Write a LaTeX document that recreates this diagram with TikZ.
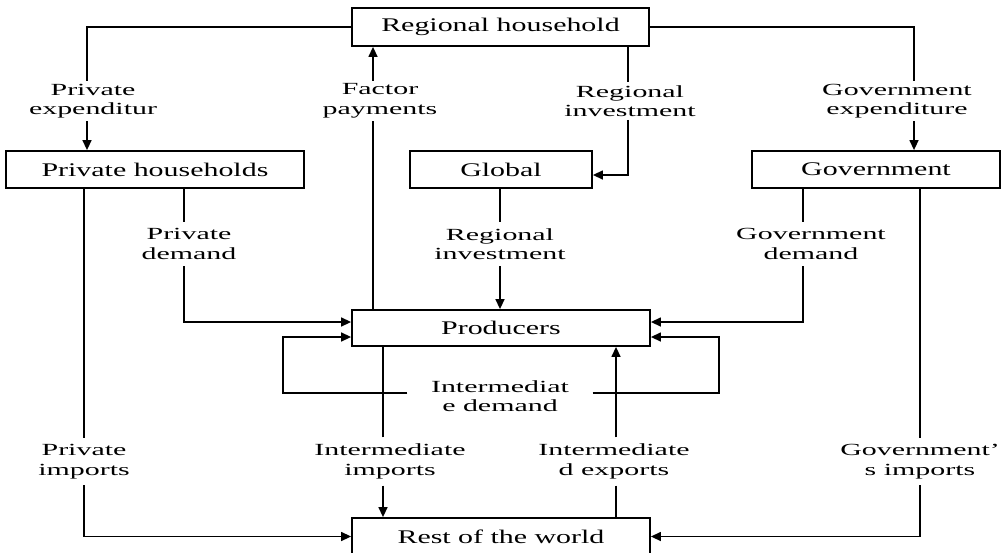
\documentclass[tikz,border=0pt]{standalone}
\usepackage{fontspec}
\setmainfont{Liberation Serif}
\newfontfamily\boxfont[FakeStretch=1.55]{Liberation Serif}
\newfontfamily\labfont[FakeStretch=1.76]{Liberation Serif}
\usetikzlibrary{arrows.meta}
\begin{document}
\begin{tikzpicture}[x=1pt,y=-1pt,
  box/.style={draw, line width=1.8pt, rectangle, minimum height=37pt, inner sep=0pt,
    font=\boxfont\fontsize{19.3}{22}\selectfont},
  lab/.style={align=center, inner xsep=2pt, inner ysep=6.5pt,
    font=\labfont\fontsize{17}{19.5}\selectfont},
  labtop/.style={lab, inner ysep=3pt},
  conn/.style={line width=1.4pt},
  arr/.style={conn, -{Triangle[length=10pt,width=9pt]}}]
\useasboundingbox (0,0) rectangle (1003,552);
\clip (0,0) rectangle (1003,552);
\fill[white] (0,0) rectangle (1003,552);

% boxes
\node[box, minimum width=297pt, minimum height=38pt] (rh) at (500.5,27) {Regional household};
\node[box, minimum width=298pt] (ph) at (155,169.5) {Private households};
\node[box, minimum width=182pt] (gb) at (501,169.5) {Global};
\node[box, minimum width=248pt] (gv) at (876,169.5) {Government};
\node[box, minimum width=298pt, minimum height=36pt] (pr) at (501,328) {Producers};
\node[box, minimum width=298pt] (rw) at (501,536.5) {Rest of the world};

% labels
\node[labtop] (pe)  at (93,101)    {Private\\expenditur};
\node[labtop] (fp)  at (380,101)   {Factor\\payments};
\node[labtop] (ri1) at (630,101)   {Regional\\investment};
\node[labtop] (ge)  at (897,101)   {Government\\expenditure};
\node[lab] (pd)  at (189,244)   {Private\\demand};
\node[lab] (ri2) at (500,244)   {Regional\\investment};
\node[lab] (gd)  at (811,244)   {Government\\demand};
\node[lab] (pi)  at (84,461.5)  {Private\\imports};
\node[lab] (ii)  at (390,461.5) {Intermediate\\imports};
\node[lab] (ie)  at (614,461.5) {Intermediate\\d exports};
\node[lab] (gi)  at (920,461.5) {Government’\\s imports};
\node[lab, inner xsep=23.5pt, inner ysep=2pt] (id) at (500,396) {Intermediat\\e demand};

% private expenditure
\draw[conn] (rh.west) -| ([xshift=-6pt]pe.north);
\draw[arr] ([xshift=-6pt]pe.south) -- ([xshift=-6pt]pe.south |- ph.north);
% government expenditure
\draw[conn] (rh.east) -| ([xshift=17pt]ge.north);
\draw[arr] ([xshift=17pt]ge.south) -- ([xshift=17pt]ge.south |- gv.north);
% factor payments
\draw[conn] ([xshift=-7pt]fp.south) -- ([xshift=-7pt]fp.south |- pr.north);
\draw[arr] ([xshift=-7pt]fp.north) -- ([xshift=-7pt]fp.north |- rh.south);
% regional investment (top)
\draw[conn] ([xshift=-2pt]ri1.north) -- ([xshift=-2pt]ri1.north |- rh.south);
\draw[arr] ([xshift=-2pt]ri1.south) |- ([yshift=-5.5pt]gb.east);
% regional investment (middle)
\draw[conn] (ri2.north) -- (ri2.north |- gb.south);
\draw[arr] (ri2.south) -- (ri2.south |- pr.north);
% private demand
\draw[conn] ([xshift=-5pt]pd.north) -- ([xshift=-5pt]pd.north |- ph.south);
\draw[arr] ([xshift=-5pt]pd.south) |- ([yshift=6pt]pr.west);
% government demand
\draw[conn] ([xshift=-8pt]gd.north) -- ([xshift=-8pt]gd.north |- gv.south);
\draw[arr] ([xshift=-8pt]gd.south) |- ([yshift=6pt]pr.east);
% private imports
\draw[conn] (pi.north) -- (pi.north |- ph.south);
\draw[arr] (pi.south) |- (rw.west);
% government's imports
\draw[conn] (gi.north) -- (gi.north |- gv.south);
\draw[arr] (gi.south) |- (rw.east);
% intermediate imports
\draw[conn] ([xshift=-7pt]ii.north) -- ([xshift=-7pt]ii.north |- pr.south);
\draw[arr] ([xshift=-7pt]ii.south) -- ([xshift=-7pt]ii.south |- rw.north);
% intermediate exports
\draw[conn] ([xshift=2pt]ie.south) -- ([xshift=2pt]ie.south |- rw.north);
\draw[arr] ([xshift=2pt]ie.north) -- ([xshift=2pt]ie.north |- pr.south);
% intermediate demand
\draw[arr] ([yshift=3pt]id.west) -| ([xshift=-68pt,yshift=-9pt]pr.west) -- ([yshift=-9pt]pr.west);
\draw[arr] ([yshift=3pt]id.east) -| ([xshift=68pt,yshift=-9pt]pr.east) -- ([yshift=-9pt]pr.east);
\end{tikzpicture}
\end{document}
